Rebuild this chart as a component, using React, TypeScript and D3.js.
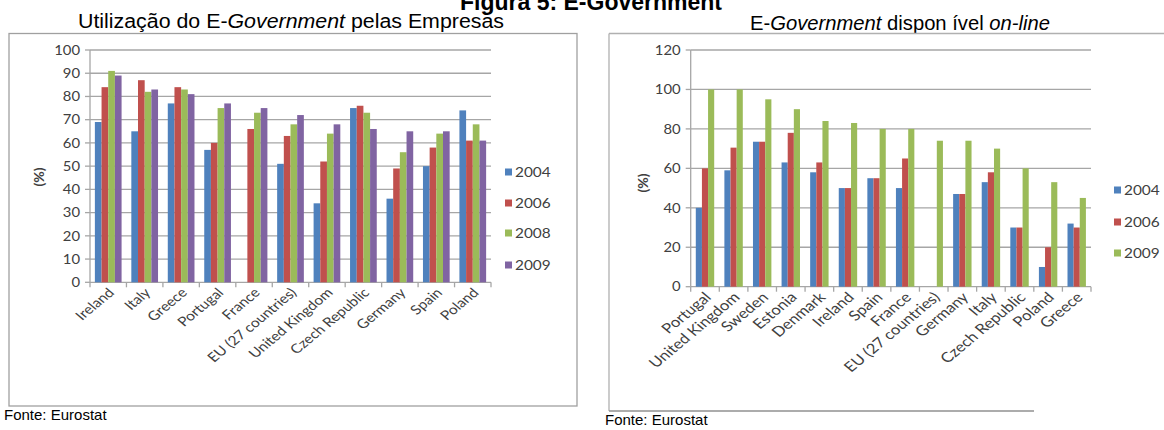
import React from "react";
import * as d3 from "d3";

const leftCategories = ["Ireland", "Italy", "Greece", "Portugal", "France", "EU (27 countries)", "United Kingdom", "Czech Republic", "Germany", "Spain", "Poland"];
const leftSeries = ["2004", "2006", "2008", "2009"];
const left2004 = [69, 65, 77, 57, null, 51, 34, 75, 36, 50, 74];
const left2006 = [84, 87, 84, 60, 66, 63, 52, 76, 49, 58, 61];
const left2008 = [91, 82, 83, 75, 73, 68, 64, 73, 56, 64, 68];
const left2009 = [89, 83, 81, 77, 75, 72, 68, 66, 65, 65, 61];
const leftTicks = [0, 10, 20, 30, 40, 50, 60, 70, 80, 90, 100];
const leftColors = ["#4F81BD", "#C0504D", "#9BBB59", "#8064A2"];

const rightCategories = ["Portugal", "United Kingdom", "Sweden", "Estonia", "Denmark", "Ireland", "Spain", "France", "EU (27 countries)", "Germany", "Italy", "Czech Republic", "Poland", "Greece"];
const rightSeries = ["2004", "2006", "2009"];
const right2004 = [40, 59, 73.5, 63, 58, 50, 55, 50, null, 47, 53, 30, 10, 32];
const right2006 = [60, 70.5, 73.5, 78, 63, 50, 55, 65, null, 47, 58, 30, 20, 30];
const right2009 = [100, 100, 95, 90, 84, 83, 80, 80, 74, 74, 70, 60, 53, 45];
const rightTicks = [0, 20, 40, 60, 80, 100, 120];
const rightColors = ["#4F81BD", "#C0504D", "#9BBB59"];

type ChartProps = {
  categories: string[];
  series: string[];
  colors: string[];
  values: (number | null)[][];
  ticks: number[];
  yMax: number;
  x0: number;
  x1: number;
  yTop: number;
  yBottom: number;
  outerPad: number;
  legendX: number;
  legendY: number[];
  yLabelX: number;
  yLabelY: number;
  labelSize: number;
};

const BarChart = (p: ChartProps) => {
  const x = d3.scaleBand<string>().domain(p.categories).range([p.x0, p.x1]).padding(0);
  const xi = d3.scaleBand<string>().domain(p.series).range([0, x.bandwidth()]).paddingInner(0).paddingOuter(p.outerPad);
  const y = d3.scaleLinear().domain([0, p.yMax]).range([p.yBottom, p.yTop]);
  const color = d3.scaleOrdinal<string, string>().domain(p.series).range(p.colors);
  const font = "Lato, 'Open Sans', sans-serif";
  return (
    <g>
      {p.ticks.map((t) => (
        <g key={"g" + t}>
          <line x1={p.x0} x2={p.x1} y1={y(t)} y2={y(t)} stroke="#a6a6a6" strokeWidth={1.3} />
          <line x1={p.x0 - 5} x2={p.x0} y1={y(t)} y2={y(t)} stroke="#a6a6a6" strokeWidth={1.3} />
          <text transform={`translate(${p.x0 - 10},${y(t)}) scale(1.1,1)`} dy="0.35em" textAnchor="end" fontFamily={font} fontSize={13.5} fill="#404040">
            {t}
          </text>
        </g>
      ))}
      <line x1={p.x0} x2={p.x0} y1={y(p.yMax)} y2={p.yBottom} stroke="#a6a6a6" strokeWidth={1.3} />
      {p.categories.map((c, ci) => (
        <g key={c}>
          {p.series.map((s, si) => {
            const v = p.values[si][ci];
            if (v == null) return null;
            return (
              <rect
                key={s}
                x={(x(c) as number) + (xi(s) as number)}
                width={xi.bandwidth()}
                y={y(v)}
                height={p.yBottom - y(v)}
                fill={color(s)}
              />
            );
          })}
        </g>
      ))}
      {[...p.categories.map((c) => x(c) as number), p.x1].map((bx, i) => (
        <line key={"t" + i} x1={bx} x2={bx} y1={p.yBottom} y2={p.yBottom + 5} stroke="#a6a6a6" strokeWidth={1.3} />
      ))}
      {p.categories.map((c) => {
        const cx = (x(c) as number) + x.bandwidth() / 2 + 3;
        const cy = p.yBottom + 8;
        return (
          <text key={"l" + c} transform={`translate(${cx},${cy}) scale(1.2,1) rotate(-45)`} textAnchor="end" dy="0.35em" fontFamily={font} fontSize={p.labelSize} fill="#404040">
            {c}
          </text>
        );
      })}
      <text transform={`translate(${p.yLabelX},${p.yLabelY}) rotate(-90)`} textAnchor="middle" dy="0.35em" fontFamily={font} fontWeight="bold" fontSize={14} fill="#404040">
        (%)
      </text>
      {p.series.map((s, i) => (
        <g key={"lg" + s}>
          <rect x={p.legendX} y={p.legendY[i] - 3.5} width={7} height={7} fill={color(s)} />
          <text transform={`translate(${p.legendX + 10},${p.legendY[i]}) scale(1.1,1)`} dy="0.35em" fontFamily={font} fontSize={14} fill="#404040">
            {s}
          </text>
        </g>
      ))}
    </g>
  );
};

export default function App() {
  const arial = "'Liberation Sans', Arial, sans-serif";
  return (
    <svg width={1164} height={430} style={{ position: "absolute", left: 0, top: 0, background: "#fff" }}>
      <rect x={0} y={0} width={1164} height={430} fill="#fff" />
      <text x={591} y={10} textAnchor="middle" fontFamily={arial} fontWeight="bold" fontSize={23} fill="#000">
        Figura 5: E-Government
      </text>
      <text x={291} y={28} textAnchor="middle" fontFamily={arial} fontSize={20} fill="#000" textLength={426} lengthAdjust="spacingAndGlyphs">
        Utilização do E-<tspan fontStyle="italic">Government</tspan> pelas Empresas
      </text>
      <text x={900} y={29.5} textAnchor="middle" fontFamily={arial} fontSize={20} fill="#000" textLength={300} lengthAdjust="spacingAndGlyphs">
        E-<tspan fontStyle="italic">Government</tspan> dispon ível <tspan fontStyle="italic">on-line</tspan>
      </text>

      <rect x={9} y={33.5} width={568} height={372.5} fill="none" stroke="#a0a0a0" strokeWidth={1.3} />
      <line x1={609} y1={33.5} x2={1164} y2={33.5} stroke="#b0b0b0" strokeWidth={1.3} />
      <line x1={609} y1={33.5} x2={609} y2={411} stroke="#b0b0b0" strokeWidth={1.3} />
      <line x1={609} y1={411} x2={1034} y2={411} stroke="#909090" strokeWidth={1.5} />

      <BarChart
        categories={leftCategories}
        series={leftSeries}
        colors={leftColors}
        values={[left2004, left2006, left2008, left2009]}
        ticks={leftTicks}
        yMax={100}
        x0={90}
        x1={491}
        yTop={50}
        yBottom={282.3}
        outerPad={0.73}
        legendX={505}
        legendY={[172, 203, 233, 265]}
        yLabelX={39}
        yLabelY={177}
        labelSize={13}
      />
      <BarChart
        categories={rightCategories}
        series={rightSeries}
        colors={rightColors}
        values={[right2004, right2006, right2009]}
        ticks={rightTicks}
        yMax={120}
        x0={690.7}
        x1={1091}
        yTop={50}
        yBottom={286.7}
        outerPad={0.83}
        legendX={1114}
        legendY={[190, 222, 253]}
        yLabelX={643}
        yLabelY={183}
        labelSize={14}
      />

      <text x={4} y={420} fontFamily={arial} fontSize={15} fill="#000">
        Fonte: Eurostat
      </text>
      <text x={605} y={425} fontFamily={arial} fontSize={15} fill="#000">
        Fonte: Eurostat
      </text>
    </svg>
  );
}
